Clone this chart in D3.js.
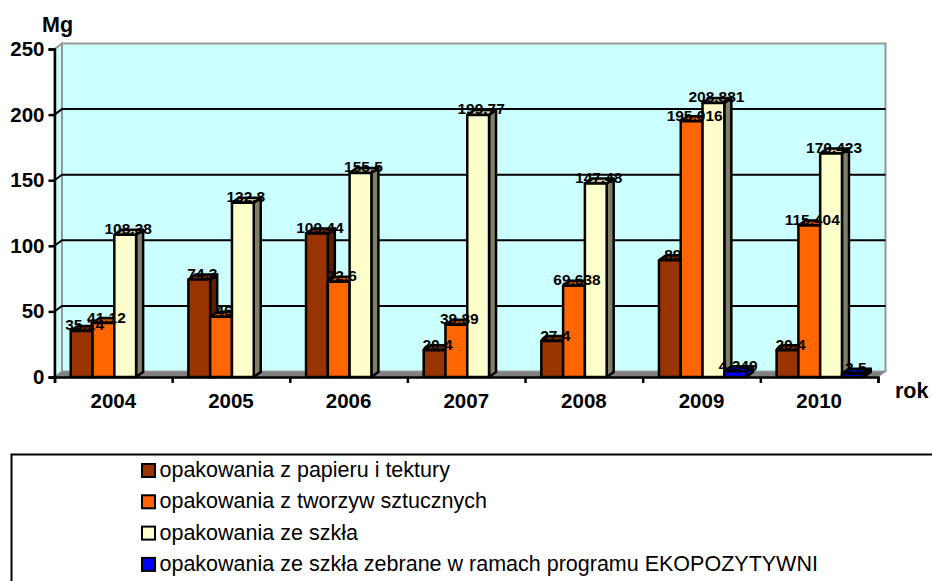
<!DOCTYPE html>
<html>
<head>
<meta charset="utf-8">
<script src="https://cdn.jsdelivr.net/npm/d3@7"></script>
<style>
html, body { margin: 0; padding: 0; background: #fff; overflow: hidden; }
svg text { font-family: "Liberation Sans", Arial, sans-serif; fill: #000; }
</style>
</head>
<body>
<div id="chart"></div>
<script>
const years = ['2004', '2005', '2006', '2007', '2008', '2009', '2010'];
const seriesNames = [
    'opakowania z papieru i tektury',
    'opakowania z tworzyw sztucznych',
    'opakowania ze szkła',
    'opakowania ze szkła zebrane w ramach programu EKOPOZYTYWNI'
];
const papier = [35.14, 74.3, 109.44, 20.4, 27.4, 89, 20.4];
const tworzywa = [41.12, 46, 72.6, 39.89, 69.638, 195.016, 115.404];
const szklo = [108.38, 132.8, 155.5, 199.77, 147.48, 208.881, 170.423];
const ekopozytywni = [null, null, null, null, null, 4.349, 2.5];
const yTicks = [0, 50, 100, 150, 200, 250];

const frontColors = ['#993300', '#ff6600', '#ffffcc', '#0000ff'];
const topColors = ['#7a2900', '#cc5200', '#cccca3', '#0000cc'];
const sideColors = ['#5c1f00', '#993d00', '#80806a', '#000099'];

const width = 932, height = 581;
const left = 54.5, right = 878, y0 = 377, y250 = 49;
const depthX = 7.5, depthY = 5.5;
const barDepthX = 7, barDepthY = 5;

const svg = d3.select('#chart').append('svg')
    .attr('width', width)
    .attr('height', height);

const x = d3.scaleBand().domain(years).range([left, right]);
const xBar = d3.scaleBand().domain(d3.range(4)).range([1, x.bandwidth() + 1]).paddingOuter(0.7);
const y = d3.scaleLinear().domain([0, 250]).range([y0, y250]);

// back wall and floor
svg.append('path')
    .attr('d', `M${left},${y250}L${left + depthX},${y250 - depthY}V${y0 - depthY}L${left},${y0}Z`)
    .attr('fill', '#ccffff').attr('stroke', '#969696').attr('stroke-width', 2);
svg.append('rect')
    .attr('x', left + depthX).attr('y', y250 - depthY)
    .attr('width', right - left).attr('height', y0 - y250)
    .attr('fill', '#ccffff').attr('stroke', '#969696').attr('stroke-width', 2);
svg.append('path')
    .attr('d', `M${left},${y0}L${left + depthX},${y0 - depthY}H${right + depthX}L${right},${y0}Z`)
    .attr('fill', '#808080').attr('stroke', '#969696').attr('stroke-width', 1);

// gridlines on the wall
svg.append('g').selectAll('path')
    .data(yTicks.filter(d => d > 0 && d < 250))
    .join('path')
    .attr('d', d => `M${left},${y(d)}L${left + depthX},${y(d) - depthY}H${right + depthX}`)
    .attr('fill', 'none').attr('stroke', '#000').attr('stroke-width', 2);

// bars
const series = [papier, tworzywa, szklo, ekopozytywni];
const bars = [];
years.forEach((year, i) => {
    series.forEach((values, s) => {
        if (values[i] !== null) bars.push({ year, s, value: values[i] });
    });
});
const barG = svg.append('g').attr('stroke', '#000').attr('stroke-width', 2.5).attr('stroke-linejoin', 'round');
const barX = d => x(d.year) + xBar(d.s);
const bw = xBar.bandwidth();
barG.selectAll('path.side').data(bars).join('path')
    .attr('class', 'side')
    .attr('fill', d => sideColors[d.s])
    .attr('d', d => `M${barX(d) + bw},${y0}V${y(d.value)}l${barDepthX},${-barDepthY}V${y0 - barDepthY}Z`);
barG.selectAll('path.top').data(bars).join('path')
    .attr('class', 'top')
    .attr('fill', d => topColors[d.s])
    .attr('d', d => `M${barX(d)},${y(d.value)}l${barDepthX},${-barDepthY}h${bw}l${-barDepthX},${barDepthY}Z`);
barG.selectAll('rect').data(bars).join('rect')
    .attr('fill', d => frontColors[d.s])
    .attr('x', barX)
    .attr('y', d => y(d.value))
    .attr('width', bw)
    .attr('height', d => y0 - y(d.value));

// axes
const yAxis = d3.axisLeft(y).tickValues(yTicks).tickSize(6).tickPadding(4);
const yG = svg.append('g').attr('transform', `translate(${left},0)`).call(yAxis);
const xAxis = d3.axisBottom(d3.scalePoint().domain(d3.range(8)).range([left, right])).tickSize(6).tickFormat('');
const xG = svg.append('g').attr('transform', `translate(0,${y0})`).call(xAxis);
[yG, xG].forEach(g => {
    g.selectAll('.domain').attr('stroke', '#000').attr('stroke-width', 2.5);
    g.selectAll('line').attr('stroke', '#000').attr('stroke-width', 2.5);
});
yG.selectAll('text').attr('font-size', 20.5).attr('font-weight', 'bold');
svg.append('g').selectAll('text').data(years).join('text')
    .attr('x', d => x(d) + x.bandwidth() / 2)
    .attr('y', 408)
    .attr('text-anchor', 'middle')
    .attr('font-size', 20.5).attr('font-weight', 'bold')
    .text(d => d);

// value labels
svg.append('g').selectAll('text').data(bars).join('text')
    .attr('x', d => barX(d) + bw / 2 + 3)
    .attr('y', d => y(d.value) - 0.5)
    .attr('text-anchor', 'middle')
    .attr('font-size', 15.5).attr('font-weight', 'bold')
    .text(d => d.value);

svg.append('text').attr('x', 42).attr('y', 32).attr('font-size', 21.5).attr('font-weight', 'bold').text('Mg');
svg.append('text').attr('x', 895).attr('y', 398).attr('font-size', 21.5).attr('font-weight', 'bold').text('rok');

// legend, its box runs off the right and bottom of the picture
svg.append('rect')
    .attr('x', 11.5).attr('y', 454.5).attr('width', 940).attr('height', 160)
    .attr('fill', '#fff').attr('stroke', '#000').attr('stroke-width', 2);
const legend = svg.append('g').selectAll('g').data(seriesNames).join('g')
    .attr('transform', (d, i) => `translate(142,${470 + i * 31.3})`);
legend.append('rect')
    .attr('x', 0).attr('y', -6).attr('width', 13).attr('height', 13)
    .attr('fill', (d, i) => frontColors[i]).attr('stroke', '#000').attr('stroke-width', 2);
legend.append('text')
    .attr('x', 17.5).attr('y', 7)
    .attr('font-size', 21.5)
    .text(d => d);
</script>
</body>
</html>
